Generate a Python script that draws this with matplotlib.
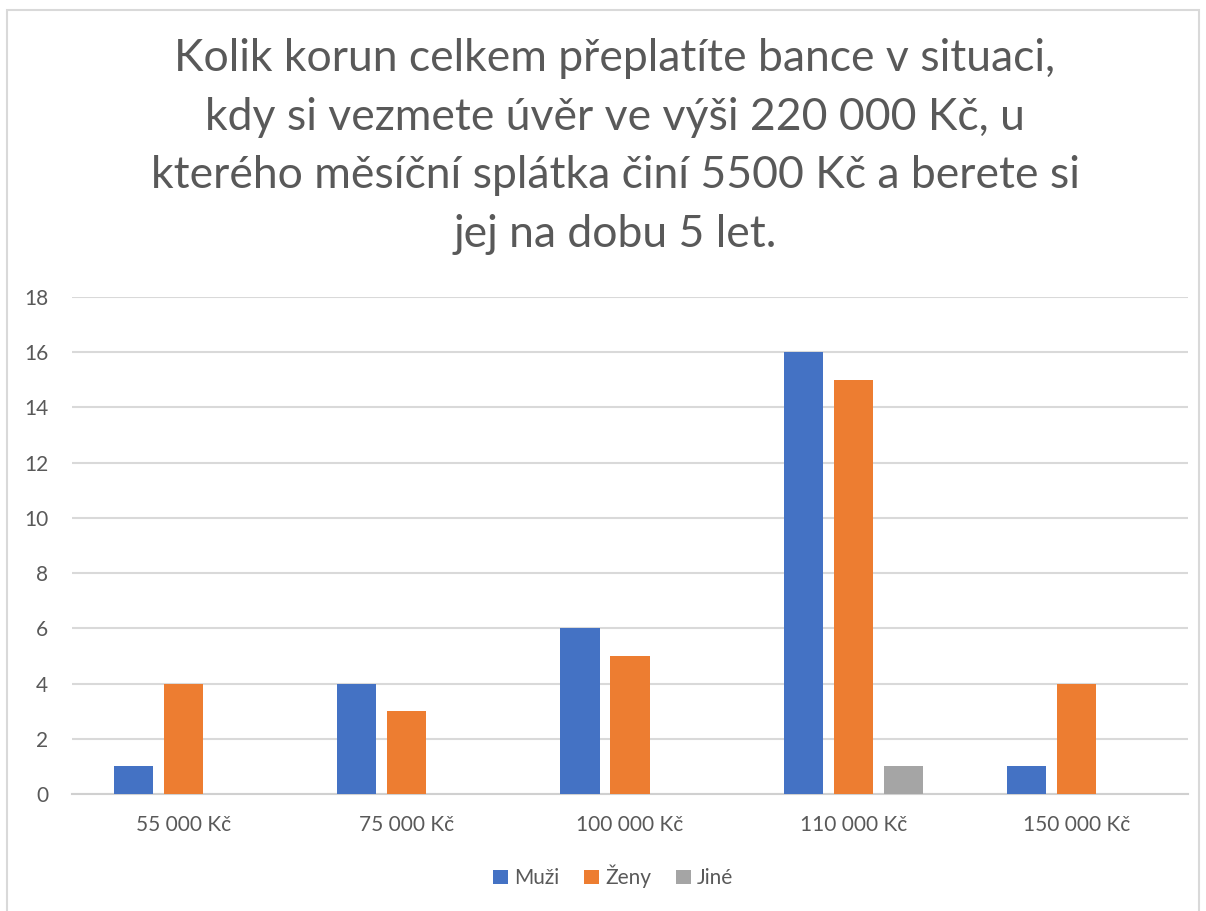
import numpy as np
import matplotlib.pyplot as plt
from matplotlib.patches import Rectangle

plt.rcParams['font.family'] = ['Lato', 'DejaVu Sans']

kategorie = ['55 000 Kč', '75 000 Kč', '100 000 Kč', '110 000 Kč', '150 000 Kč']
muzi = [1, 4, 6, 16, 1]
zeny = [4, 3, 5, 15, 4]
jine = [0, 0, 0, 1, 0]
serie = ['Muži', 'Ženy', 'Jiné']
barvy = ['#4472C4', '#ED7D31', '#A5A5A5']

titulek = ('Kolik korun celkem přeplatíte bance v situaci,\n'
           'kdy si vezmete úvěr ve výši 220 000 Kč, u\n'
           'kterého měsíční splátka činí 5500 Kč a berete si\n'
           'jej na dobu 5 let.')

fig = plt.figure(figsize=(12.06, 9.11), dpi=100)
fig.patches.append(Rectangle((7 / 1206, -0.01), 1192 / 1206, 1 - 10 / 911 + 0.01,
                             transform=fig.transFigure, fill=False,
                             edgecolor='#D9D9D9', lw=1.5))
ax = fig.add_axes([72 / 1206, 117 / 911, 1116 / 1206, 497 / 911])

x = np.arange(len(kategorie))
sirka = 0.175
posun = 0.224
for i, (hodnoty, nazev, barva) in enumerate(zip([muzi, zeny, jine], serie, barvy)):
    ax.bar(x + (i - 1) * posun, hodnoty, sirka, color=barva, label=nazev, zorder=3)

ax.set_xlim(-0.5, 4.5)
ax.set_ylim(0, 18)
ax.set_yticks(range(0, 19, 2))
ax.set_xticks(x)
ax.set_xticklabels(kategorie)
ax.grid(axis='y', color='#D9D9D9', lw=1.5, zorder=0)
for s in ['top', 'right', 'left']:
    ax.spines[s].set_visible(False)
ax.spines['bottom'].set_color('#D0D0D0')
ax.spines['bottom'].set_linewidth(1.5)
ax.tick_params(axis='both', length=0, labelsize=15, colors='#595959')
ax.tick_params(axis='y', pad=17)
ax.tick_params(axis='x', pad=15)

fig.text(0.51, 0.958, titulek, ha='center', va='top', fontsize=32,
         color='#595959', linespacing=1.53)

ax.legend(loc='upper center', bbox_to_anchor=(0.485, -0.105), ncol=3, frameon=False,
          fontsize=15, labelcolor='#595959', handlelength=0.7, handleheight=0.7,
          handletextpad=0.3, columnspacing=1.2)

fig.savefig('out.png', dpi=100, facecolor='white')
